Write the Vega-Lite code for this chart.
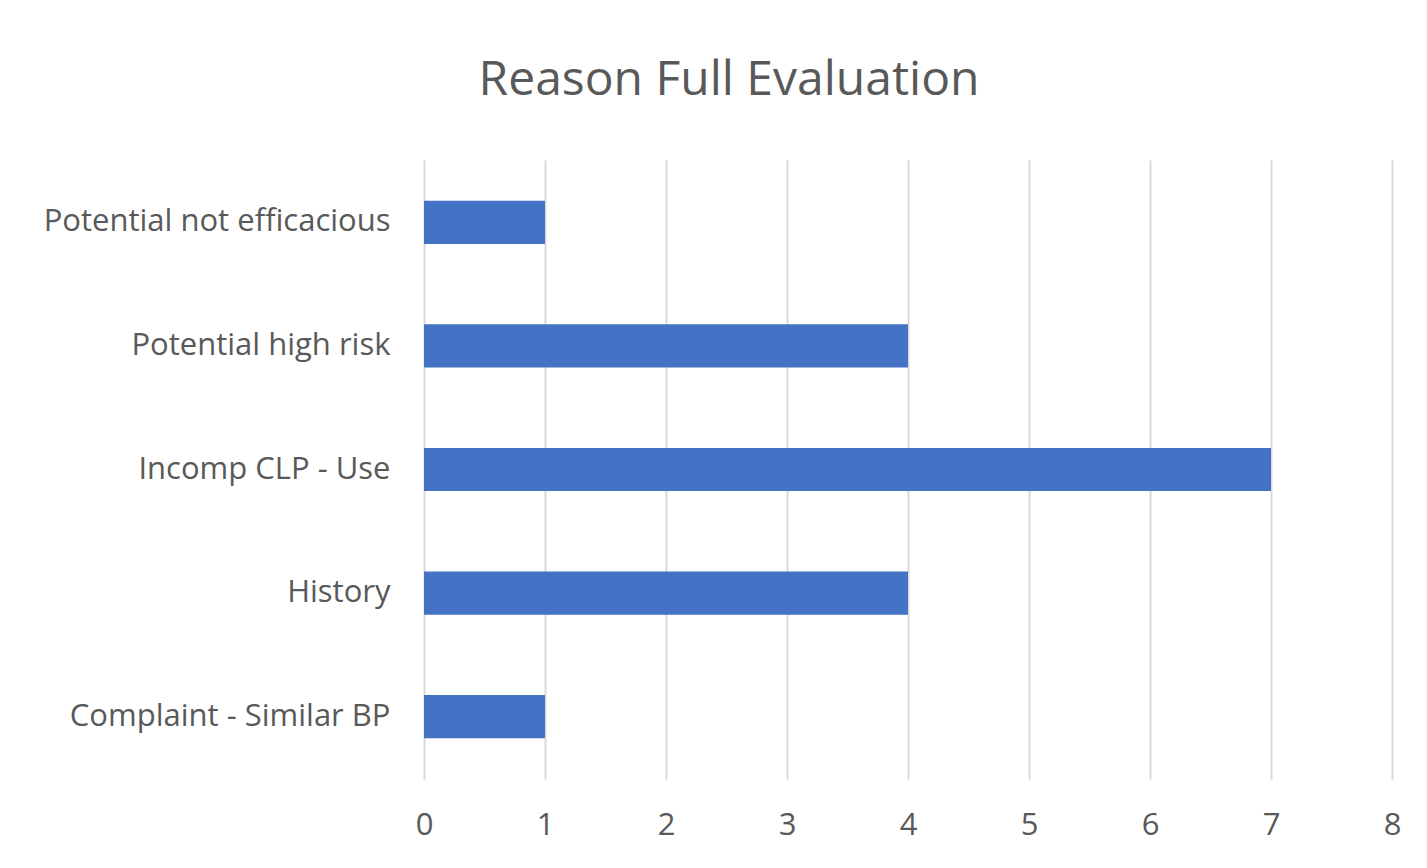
{
  "$schema": "https://vega.github.io/schema/vega-lite/v6.json",
  "width": 968,
  "height": 619,
  "autosize": "none",
  "padding": {"left": 424, "top": 160, "right": 35, "bottom": 89},
  "background": "white",
  "title": {
    "text": "Reason Full Evaluation",
    "font": "Open Sans",
    "fontSize": 48,
    "fontWeight": "normal",
    "color": "#595959",
    "anchor": "middle",
    "dx": -179,
    "offset": 55
  },
  "data": {
    "values": [
      {"reason": "Potential not efficacious", "count": 1},
      {"reason": "Potential high risk", "count": 4},
      {"reason": "Incomp CLP - Use", "count": 7},
      {"reason": "History", "count": 4},
      {"reason": "Complaint - Similar BP", "count": 1}
    ]
  },
  "mark": {"type": "bar", "color": "#4472C4"},
  "encoding": {
    "y": {
      "field": "reason",
      "type": "nominal",
      "sort": null,
      "title": null,
      "scale": {"paddingInner": 0.65, "paddingOuter": 0.33},
      "axis": {
        "domain": false,
        "ticks": false,
        "grid": false,
        "labelFont": "Open Sans",
        "labelFontSize": 31,
        "labelColor": "#595959",
        "labelPadding": 34,
        "labelLimit": 500
      }
    },
    "x": {
      "field": "count",
      "type": "quantitative",
      "title": null,
      "scale": {"domain": [0, 8], "nice": false},
      "axis": {
        "values": [0, 1, 2, 3, 4, 5, 6, 7, 8],
        "domain": false,
        "ticks": false,
        "grid": true,
        "gridColor": "#d9d9d9",
        "gridWidth": 2,
        "labelFont": "Open Sans",
        "labelFontSize": 31,
        "labelColor": "#595959",
        "labelPadding": 31,
        "labelFlush": false
      }
    }
  },
  "config": {"view": {"stroke": null}}
}
